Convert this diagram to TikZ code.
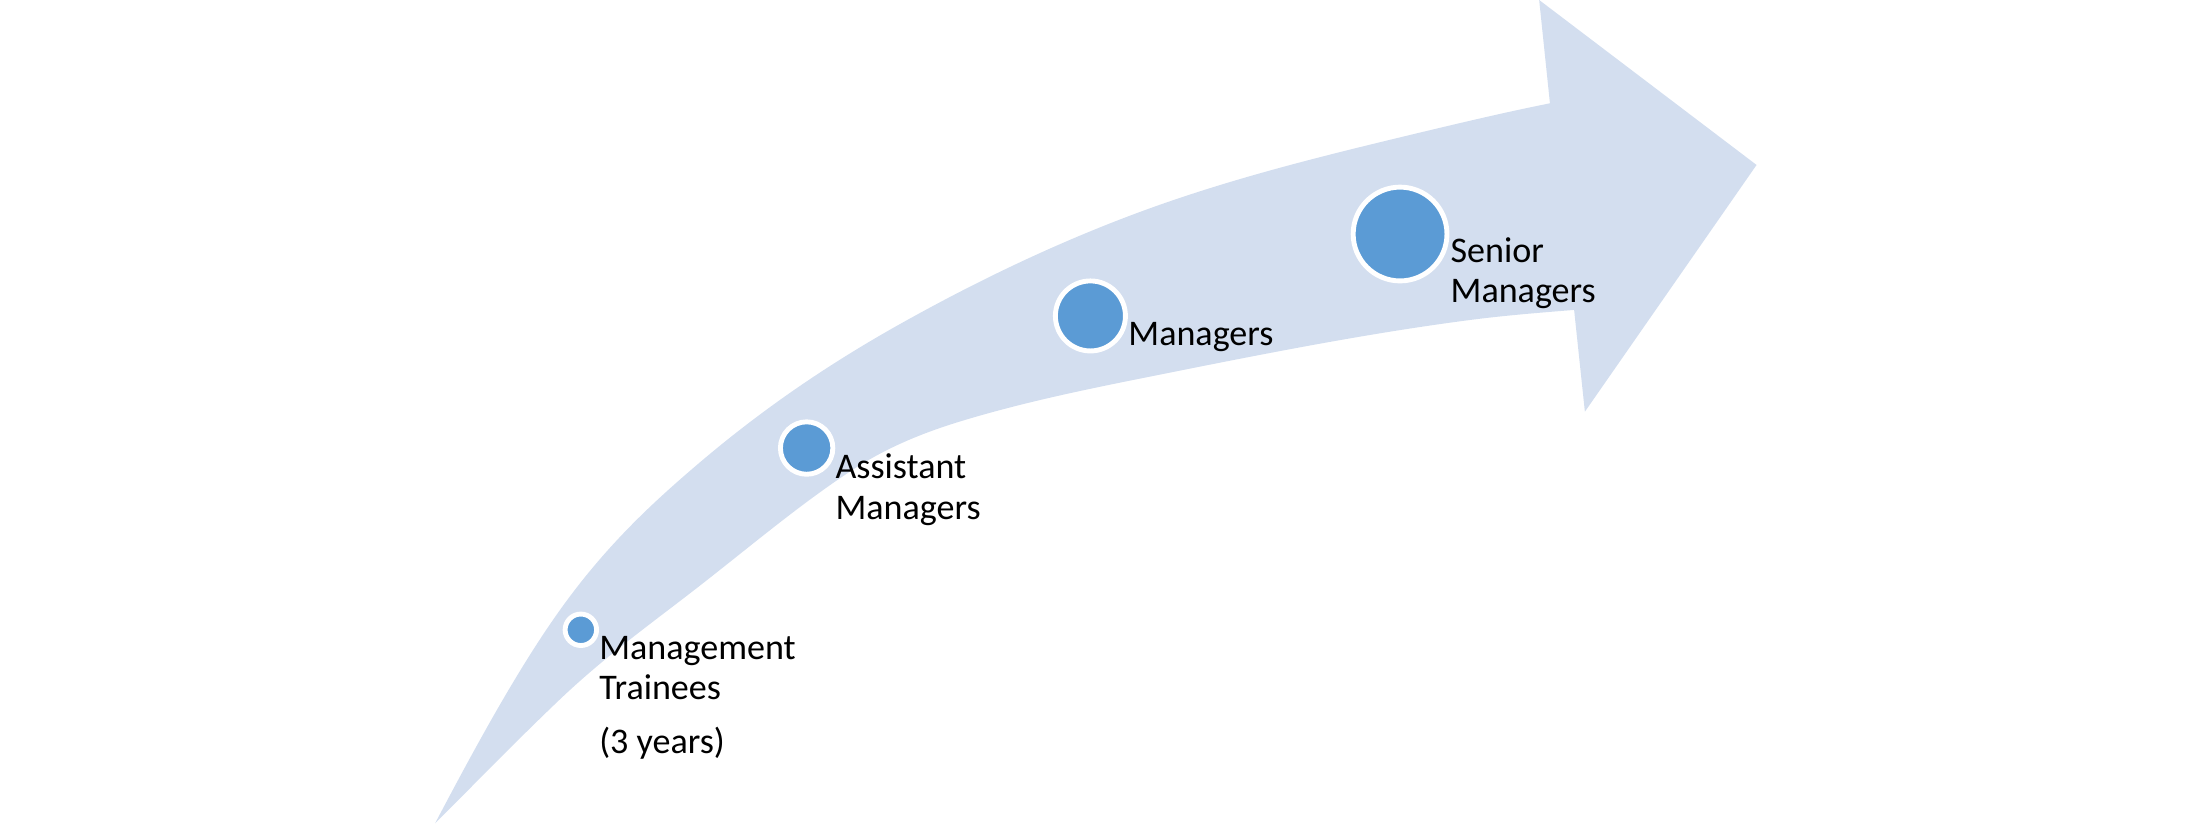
\documentclass[tikz,border=0pt]{standalone}
\usepackage{fontspec}
\setmainfont{Carlito}
\definecolor{bandblue}{RGB}{211,222,239}
\definecolor{dotblue}{RGB}{91,155,213}
\begin{document}
\begin{tikzpicture}[x=1pt,y=-1pt,
  lbl/.style={anchor=base west, inner sep=0pt, font=\fontsize{25.8}{29.3}\selectfont, text=black},
  dotc/.style={circle, fill=dotblue, draw=white, line width=3.5pt, inner sep=0pt}]
\useasboundingbox (0,0) rectangle (1568,591);
% curved arrow
\fill[bandblue] (311.2,589)
  .. controls (341,532.4) and (370.8,478) .. (400.6,436.3)
  .. controls (433.97,389.6) and (467.33,359.1) .. (500.7,330.7)
  .. controls (548.4,290.2) and (596.1,258.5) .. (643.8,231.8)
  .. controls (703.4,198.4) and (763,170.5) .. (822.6,149)
  .. controls (886.2,126.1) and (949.8,110.7) .. (1013.4,95.4)
  .. controls (1045.2,87.8) and (1076.9,80.25) .. (1108.7,73.9)
  -- (1101,0) -- (1256.5,118) -- (1133.7,294.5) -- (1126,221.7)
  .. controls (1101.17,223.69) and (1076.33,225.67) .. (1051.5,228.9)
  .. controls (975.2,238.82) and (898.9,254.14) .. (822.6,269.4)
  .. controls (778.4,278.24) and (734.2,287.24) .. (690,300.5)
  .. controls (663.33,308.5) and (636.67,318.67) .. (610,336)
  .. controls (573.57,359.68) and (537.13,390.48) .. (500.7,418.9)
  .. controls (467.33,444.93) and (433.97,468.5) .. (400.6,500.2)
  .. controls (370.8,528.51) and (341,559.2) .. (311.2,589) -- cycle;
% circles
\node[dotc, minimum size=22.5pt] (c1) at (415.5,450.5) {};
\node[dotc, minimum size=37.5pt] (c2) at (577,320.5) {};
\node[dotc, minimum size=50.1pt] (c3) at (780,226) {};
\node[dotc, minimum size=67.1pt] (c4) at (1001.5,167.4) {};
% labels
\node[lbl] (t1a) at (428.5,471.6) {Management};
\node[lbl] (t1b) at (428.5,500.7) {Trainees};
\node[lbl] (t1c) at (428.5,539.3) {(3 years)};
\node[lbl] (t2a) at (597.5,342.2) {Assistant};
\node[lbl] (t2b) at (597.5,371.5) {Managers};
\node[lbl] (t3a) at (807,247) {Managers};
\node[lbl] (t4a) at (1037.5,188) {Senior};
\node[lbl] (t4b) at (1037.5,216.5) {Managers};
\end{tikzpicture}
\end{document}
